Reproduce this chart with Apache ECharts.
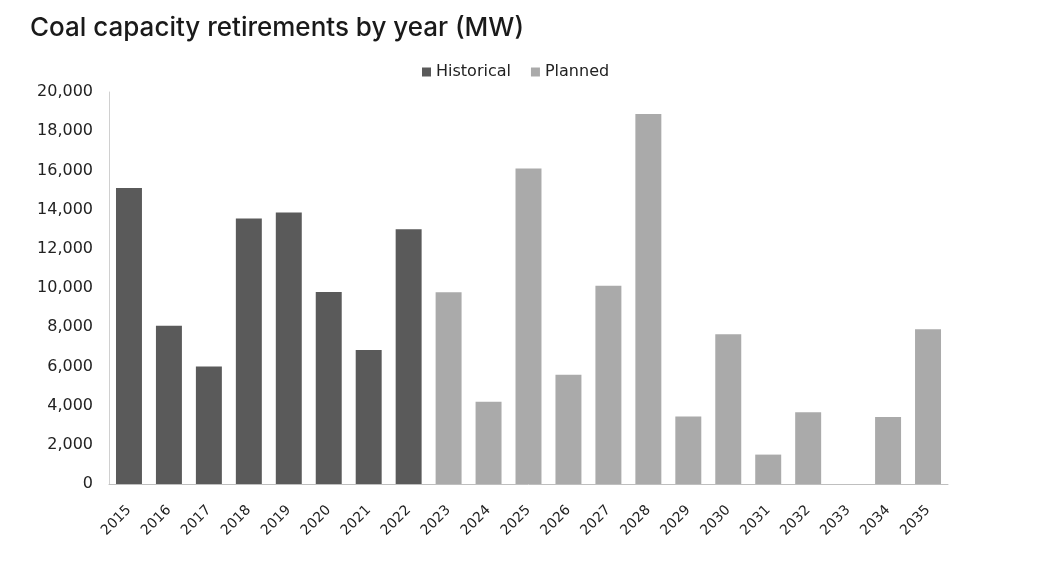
<!DOCTYPE html>
<html>
<head>
<meta charset="utf-8">
<script src="https://cdn.jsdelivr.net/npm/echarts@6/dist/echarts.min.js"></script>
<style>html,body{margin:0;padding:0;background:#fff}#c{width:1041px;height:580px}</style>
</head>
<body>
<div id="c"></div>
<script>
var years = ['2015','2016','2017','2018','2019','2020','2021','2022','2023','2024','2025','2026','2027','2028','2029','2030','2031','2032','2033','2034','2035'];
var historical = [15100, 8080, 6000, 13550, 13850, 9800, 6840, 13000, '-', '-', '-', '-', '-', '-', '-', '-', '-', '-', '-', '-', '-'];
var planned = ['-', '-', '-', '-', '-', '-', '-', '-', 9780, 4200, 16100, 5580, 10120, 18880, 3440, 7640, 1500, 3660, 0, 3420, 7890];
var yTicks = [0, 2000, 4000, 6000, 8000, 10000, 12000, 14000, 16000, 18000, 20000];

var chart = echarts.init(document.getElementById('c'));
var font = '"DejaVu Sans", sans-serif';
chart.setOption({
  animation: false,
  title: {
    text: 'Coal capacity retirements by year (MW)',
    left: 25, top: 10,
    textStyle: {fontFamily: 'Inter, "DejaVu Sans", sans-serif', fontSize: 26, fontWeight: 500, color: '#1a1a1a'}
  },
  legend: {
    data: ['Historical', 'Planned'],
    left: 417, top: 59,
    itemWidth: 9, itemHeight: 9, itemGap: 20,
    icon: 'rect',
    textStyle: {fontFamily: font, fontSize: 16, color: '#222'}
  },
  grid: {left: 109, right: 93, top: 92, bottom: 96},
  xAxis: {
    type: 'category',
    data: years,
    axisLine: {lineStyle: {color: '#bfbfbf', width: 1}},
    axisTick: {show: false},
    axisLabel: {rotate: 45, fontFamily: font, fontSize: 14, color: '#222', margin: 24}
  },
  yAxis: {
    type: 'value',
    min: yTicks[0], max: yTicks[yTicks.length - 1], interval: 2000,
    axisLine: {show: true, lineStyle: {color: '#d0d0d0', width: 1}},
    axisTick: {show: false},
    splitLine: {show: false},
    axisLabel: {
      fontFamily: font, fontSize: 16, color: '#222', margin: 16,
      formatter: function (v) { return v.toLocaleString('en-US'); }
    }
  },
  series: [
    {name: 'Historical', type: 'bar', stack: 'a', data: historical, barWidth: '65%', itemStyle: {color: '#5a5a5a'}},
    {name: 'Planned', type: 'bar', stack: 'a', data: planned, barWidth: '65%', itemStyle: {color: '#aaaaaa'}}
  ]
});
</script>
</body>
</html>
